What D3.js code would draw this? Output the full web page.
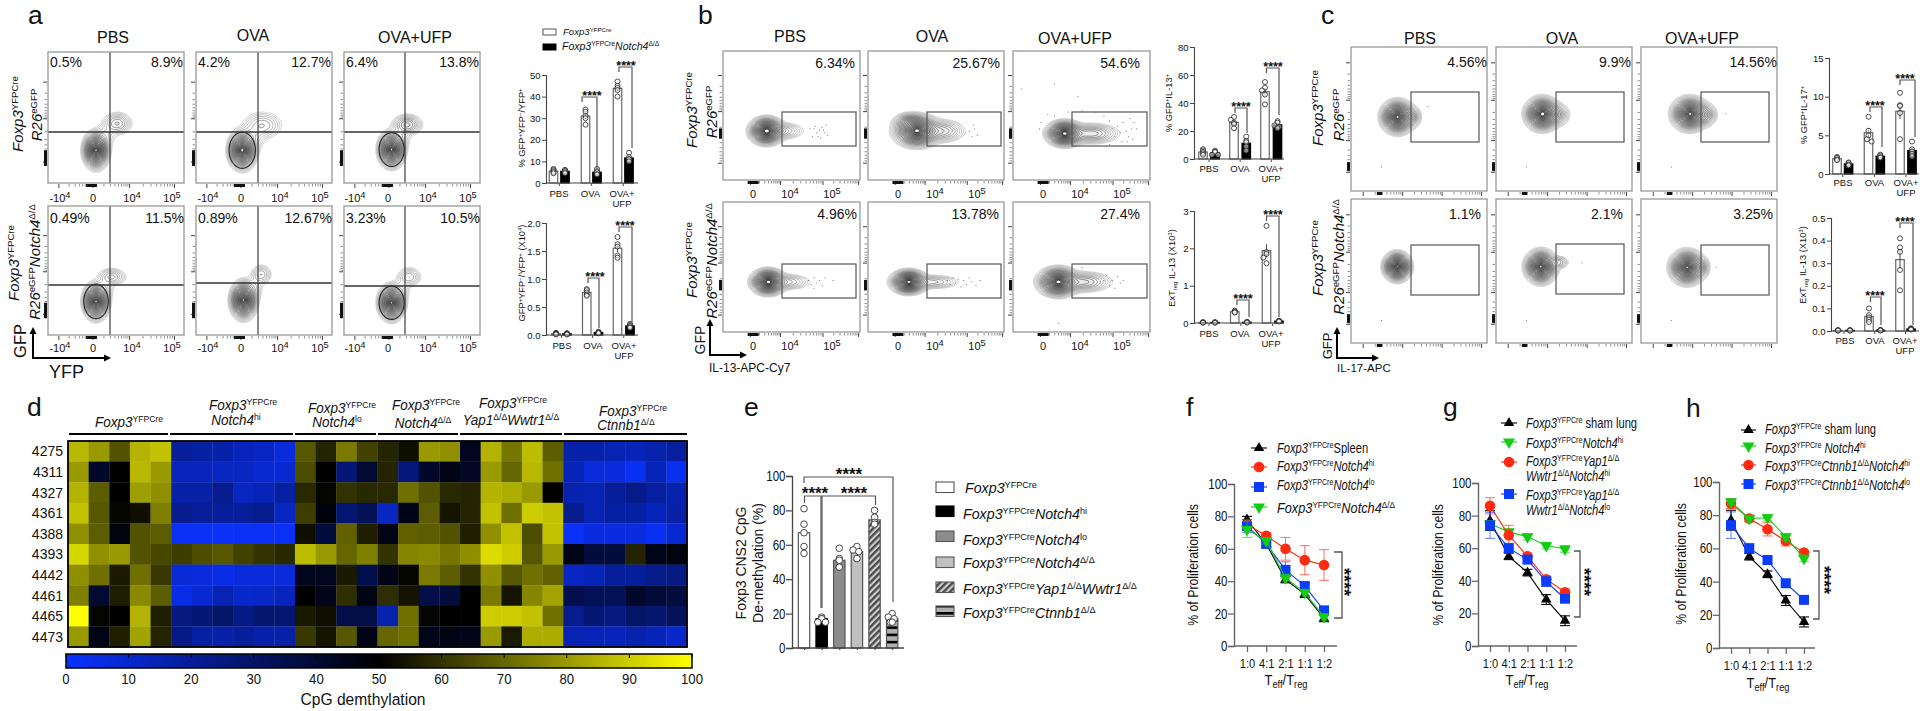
<!DOCTYPE html>
<html><head><meta charset="utf-8">
<script src="https://cdn.jsdelivr.net/npm/d3@7/dist/d3.min.js"></script>
<style>
html,body{margin:0;padding:0;background:#fff;overflow:hidden}
svg{display:block}
text{font-family:"Liberation Sans",Arial,sans-serif;fill:#111}
</style></head><body>
<svg id="fig" width="1920" height="711"></svg>
<script>
/* ---------- DATA ---------- */
const treatments = ["PBS","OVA","OVA+UFP"];
const aPctLeftTop = ["0.5%","4.2%","6.4%"];
const aPctRightTop = ["8.9%","12.7%","13.8%"];
const aPctLeftBottom = ["0.49%","0.89%","3.23%"];
const aPctRightBottom = ["11.5%","12.67%","10.5%"];
const bPctTop = ["6.34%","25.67%","54.6%"];
const bPctBottom = ["4.96%","13.78%","27.4%"];
const cPctTop = ["4.56%","9.9%","14.56%"];
const cPctBottom = ["1.1%","2.1%","3.25%"];

/* contour populations: centre u, centre v, spread u, spread v, weight */
const contourATop = [
 [[.353,.75,.039,.058,1],[.51,.545,.05,.04,.15],[.43,.63,.04,.05,.05]],
 [[.34,.75,.042,.06,1],[.49,.56,.07,.05,.11],[.41,.66,.05,.06,.06]],
 [[.35,.745,.04,.056,1],[.465,.555,.05,.036,.2],[.42,.65,.04,.05,.05]]];
const contourABottom = [
 [[.353,.74,.039,.058,1],[.47,.55,.05,.033,.12],[.42,.64,.035,.05,.05]],
 [[.35,.73,.04,.06,1],[.48,.53,.036,.036,.11],[.43,.63,.035,.05,.05]],
 [[.35,.75,.04,.056,1],[.48,.55,.042,.036,.11],[.42,.65,.035,.05,.05]]];
const contourBTop = [
 [[.318,.62,.052,.043,1],[.44,.62,.072,.03,.12]],
 [[.36,.62,.07,.05,1],[.3,.55,.05,.03,.2],[.55,.62,.075,.04,.17]],
 [[.376,.64,.055,.04,1],[.57,.64,.09,.035,.22]]];
const contourBBottom = [
 [[.33,.615,.052,.04,1],[.47,.615,.08,.028,.12]],
 [[.30,.615,.055,.037,1],[.48,.615,.09,.025,.12]],
 [[.33,.615,.062,.045,1],[.52,.615,.09,.035,.2]]];
const contourCTop = [
 [[.342,.486,.05,.047,1],[.44,.486,.035,.035,.18]],
 [[.34,.465,.052,.047,1],[.44,.47,.045,.036,.2]],
 [[.36,.465,.055,.047,1],[.47,.47,.04,.036,.2]]];
const contourCBottom = [
 [[.34,.47,.042,.041,1]],
 [[.33,.47,.048,.047,1],[.46,.44,.035,.02,.12]],
 [[.34,.475,.052,.048,1],[.44,.475,.03,.035,.14]]];

/* stray events, panel-b tails (u,v) */
const dotsBTop = [
 [[.63,.60],[.65,.66],[.67,.58],[.68,.63],[.7,.61],[.71,.67],[.72,.59],[.74,.63],[.75,.57],[.76,.65],[.66,.6],[.69,.66],[.73,.61]],
 [[.74,.62],[.76,.66],[.78,.6],[.8,.65],[.77,.57]],
 [[.25,.49],[.3,.5],[.4,.47],[.5,.46],[.6,.47],[.66,.5],[.7,.54],[.72,.6],[.74,.66],[.76,.58],[.78,.63],[.8,.55],[.82,.62],[.84,.66],[.86,.6],[.88,.55],[.83,.7],[.79,.7],[.7,.72],[.06,.29],[.3,.25],[.47,.35],[.19,.6],[.2,.55],[.9,.6],[.87,.68],[.85,.52]]];
const dotsBBottom = [
 [[.62,.6],[.64,.63],[.66,.58],[.68,.62],[.7,.6],[.72,.64],[.74,.58],[.8,.6],[.66,.66]],
 [[.58,.6],[.6,.63],[.62,.58],[.64,.62],[.66,.59],[.68,.65],[.7,.6],[.72,.63],[.74,.58],[.76,.61],[.79,.64],[.82,.6]],
 [[.66,.6],[.68,.56],[.7,.64],[.72,.6],[.74,.66],[.76,.57],[.78,.62],[.8,.6],[.33,.93],[.5,.5]]];
const dotsCTop = [[[.22,.83],[.56,.41]],[[.22,.83]],[[.22,.83],[.62,.46]]];
const dotsCBottom = [[[.22,.84]],[[.22,.84],[.63,.44]],[[.22,.84],[.55,.47]]];

/* bars a–c: replicate values per group */
const aTopCtrl = [[6.5,6,5.5,5,4.5],[34,33,31,30,27],[47,45,44,43,40]];
const aTopKo   = [[6,6,5.5,5,4.5],[6.5,5.5,5,4,4],[14,12,11,11,10]];
const aBotCtrl = [[.04,.03,.02,.02,.01],[.82,.8,.76,.72,.7],[1.75,1.62,1.58,1.42,1.38]];
const aBotKo   = [[.03,.03,.02,.02,.01],[.06,.05,.04,.03],[.2,.18,.16,.14,.13]];
const bTopCtrl = [[7,6,5,4,3],[30,28,26,25,22],[55,51,49,46,39]];
const bTopKo   = [[6,5,5,3,3],[16,13,12,9,6],[27,26,24,23,22]];
const bBotCtrl = [[.02,.02,.01,.01],[.33,.31,.29,.28],[2.6,1.9,1.85,1.75,1.6]];
const bBotKo   = [[.02,.02,.01,.01],[.03,.02,.02,.01],[.06,.05,.05,.04]];
const cTopCtrl = [[2.2,2.1,1.9,1.8],[7.4,5.6,5,4.5,4.2],[10.5,8.9,8.8,7.9,4.5]];
const cTopKo   = [[1.5,1.4,1.2,1.1],[2.5,2.4,2.2,2.1],[4.2,3.2,2.9,2.6,2.3]];
const cBotCtrl = [[.004,.003,.002,.002],[.1,.07,.06,.05,.04],[.41,.37,.35,.27,.18]];
const cBotKo   = [[.004,.003,.002,.002],[.005,.004,.003,.002],[.012,.01,.008,.006]];

/* heatmap d */
const cpgSites = ["4275","4311","4327","4361","4388","4393","4442","4461","4465","4473"];
const heatRows = [
 [86,80,66,85,88, 20,18,17,13,12,7, 67,57,74,63,57,53,80,78,44, 85,73,87,68, 17,17,15,14,16,19],
 [80,42,50,86,80, 13,13,12,12,9,9, 65,50,27,40,57,26,42,46,43, 80,70,86,72, 14,7,7,3,14,3],
 [85,68,50,81,78, 17,17,22,12,14,18, 58,51,60,58,58,72,66,58,57, 85,84,80,50, 16,15,20,23,19,16],
 [88,67,51,53,75, 22,20,20,20,22,12, 62,48,28,33,12,46,68,54,57, 88,72,90,88, 22,15,18,18,14,17],
 [78,68,47,66,68, 2,2,2,2,2,2, 53,38,69,56,46,69,68,66,56, 78,88,65,88, 2,6,6,6,3,9],
 [92,78,80,66,64, 62,65,67,63,60,58, 87,80,70,75,60,76,77,73,78, 93,90,67,80, 46,38,38,57,45,47],
 [78,72,55,72,61, 8,7,5,7,7,7, 44,44,55,35,46,51,74,68,60, 78,67,72,69, 12,14,20,20,23,24],
 [75,40,56,77,68, 5,9,15,10,11,13, 50,45,59,46,59,54,36,38,50, 74,54,76,82, 35,33,33,42,39,38],
 [100,51,50,85,56, 25,27,30,24,28,28, 55,53,36,36,16,72,51,50,50, 90,90,88,72, 22,27,25,30,28,32],
 [80,46,56,82,57, 24,18,17,20,17,17, 61,54,67,46,70,72,45,46,45, 80,55,84,84, 15,14,14,16,14,10]];
const cbarTicks = [0,10,20,30,40,50,60,70,80,90,100];

/* e */
const eGroups = [[81,72,67,59,55],[18,17,17,15,15],[58,52,51,47,47],[59,57,56,52],[80,76,73,72],[20,18,17,15,15]];
const eMeans = [67,17,51,56,74.5,17];
const eLegend = ["<i>Foxp3</i><sup>YFPCre</sup>","<i>Foxp3</i><sup>YFPCre</sup><i>Notch4</i><sup>hi</sup>","<i>Foxp3</i><sup>YFPCre</sup><i>Notch4</i><sup>lo</sup>","<i>Foxp3</i><sup>YFPCre</sup><i>Notch4</i><sup>Δ/Δ</sup>","<i>Foxp3</i><sup>YFPCre</sup><i>Yap1</i><sup>Δ/Δ</sup><i>Wwtr1</i><sup>Δ/Δ</sup>","<i>Foxp3</i><sup>YFPCre</sup><i>Ctnnb1</i><sup>Δ/Δ</sup>"];

/* f, g, h */
const ratios = ["1:0","4:1","2:1","1:1","1:2"];
const fBlack=[78,63,41,32,17], fBlackErr=[2,2,2,2,2];
const fRed=[75,68,60,53,50], fRedErr=[3,2,7,9,9.5];
const fBlue=[74,63,47,37,22], fBlueErr=[4,2,5,2,2];
const fGreen=[72,65,42,33,18], fGreenErr=[5,2,2,2,2];
const gBlack=[77,55,45,28.5,15.5], gBlackErr=[6,2,2,3,3];
const gGreen=[75,70,67,61.6,59.5], gGreenErr=[2,2,2,2,2];
const gRed=[86,68,55,41,33], gRedErr=[5,6,2,2,2];
const gBlue=[74,60,53,39.5,29], gBlueErr=[8,3,2,3,2];
const hBlack=[77,55,44.4,28.6,15.7], hBlackErr=[6,2,2,3,3];
const hGreen=[88,78,78.5,67,54], hGreenErr=[2,2,2,2,2];
const hRed=[87,78,71.5,64.5,57.5], hRedErr=[3,2,4,3,1];
const hBlue=[74,60,53,39,29], hBlueErr=[8,3,2,2,2];

/* ---------- HELPERS ---------- */
const svg = d3.select("#fig");
const C_RED="#ff2a10", C_BLUE="#0a3cff", C_GREEN="#12cc12", C_BLACK="#000";

function rich(g,s,size,opts={}){
  const t=g.append("text").attr("font-size",size);
  const sx=opts.sx||1;
  let tr=opts.transform||`translate(${opts.x||0},${opts.y||0})`;
  if(sx!==1)tr+=` scale(${sx},1)`;
  t.attr("transform",tr);
  if(opts.anchor)t.attr("text-anchor",opts.anchor);
  if(opts.weight)t.attr("font-weight",opts.weight);
  const re=/<(i|sup|sub)>(.*?)<\/\1>|([^<]+)/g; let m, cur=0;
  while((m=re.exec(s))){
    const tag=m[1], txt=m[2]!=null?m[2]:m[3];
    const fs= (tag==="sup"||tag==="sub")? size*(opts.supScale||.64):size;
    const shift= tag==="sup"? -size*.36 : tag==="sub"? size*.2 : 0;
    const sp=t.append("tspan").attr("font-size",fs).attr("dy",shift-cur).text(txt);
    if(tag==="i")sp.attr("font-style","italic");
    cur=shift;
  }
  return t;
}
const rot=(x,y)=>`translate(${x},${y}) rotate(-90)`;
function rotLabel(s,x,y,size,sx){ return rich(svg,s,size,{anchor:"middle",transform:rot(x,y),sx}); }
function letter(s,x,y){ svg.append("text").attr("x",x).attr("y",y).attr("font-size",26.5).text(s); }
function stars(s,x,yc,size){
  svg.append("text").attr("x",x).attr("y",yc+size*.58).attr("font-size",size).attr("text-anchor","middle").attr("font-weight","bold").text(s);
}
function starsV(s,x,yc,size){
  svg.append("text").attr("transform",`translate(${x},${yc}) rotate(90)`).attr("y",size*.58).attr("font-size",size).attr("font-weight","bold").attr("text-anchor","middle").text(s);
}
function bracket(x1,y1,x2,y2,y,w=1.2){
  svg.append("path").attr("d",d3.line()([[x1,y1],[x1,y],[x2,y],[x2,y2]])).attr("fill","none").attr("stroke","#555").attr("stroke-width",w);
}
/* concentric level radii */
const N_LEV=24;
const radii=d3.range(N_LEV).map(i=>2.95*Math.pow((i+.7)/N_LEV,1.12));
const levelColor=d3.scaleLinear().domain([0,1.9,2.95]).range(["#1c1c1c","#3a3a3a","#aaaaaa"]);

function flowContours(g,w,h,blobs,ring){
  const W=Math.round(w),H=Math.round(h);
  const xF=d3.scaleLinear([0,1],[0,W]), yF=d3.scaleLinear([0,1],[0,H]);
  const field=list=>{
    const grid=new Float64Array(W*H);
    list.forEach(([u,v,su,sv,wt])=>{
      const cx=xF(u),cy=yF(v),sx=xF(su),sy=yF(sv);
      for(let j=0;j<H;j++)for(let i=0;i<W;i++){
        const dx=(i+.5-cx)/sx,dy=(j+.5-cy)/sy;
        grid[j*W+i]+=wt*Math.exp(-.5*(dx*dx+dy*dy));
      }
    });
    return grid;
  };
  const grid=field(blobs);
  const path=d3.geoPath();
  const contourAt=(gr,r)=>d3.contours().size([W,H]).thresholds([Math.exp(-.5*r*r)])(gr)[0];
  radii.slice().reverse().forEach(r=>{
    g.append("path").attr("d",path(contourAt(grid,r))).attr("fill","#000").attr("fill-opacity",r<2.1?.028:0)
      .attr("stroke",levelColor(r)).attr("stroke-width",r>2.3?.5:.62);
  });
  if(ring){
    g.append("path").attr("d",path(contourAt(field([blobs[0]]),2.3))).attr("fill","none").attr("stroke","#222").attr("stroke-width",1.1);
  }
  g.append("path").attr("d",path(contourAt(grid,.13))).attr("fill","#fff").attr("stroke","none");
}
function logTicks(g,majors,len,orient,size,block){
  const minors=[];
  d3.pairs(majors).forEach(([a,b])=>{for(let d=2;d<10;d++)minors.push(a+(b-a)*Math.log10(d));});
  const line=(p,l,sw)=>{
    const e=g.append("line").attr("stroke","#444").attr("stroke-width",sw);
    if(orient==="b")e.attr("x1",p*size).attr("x2",p*size).attr("y1",0).attr("y2",l);
    else e.attr("y1",p*size).attr("y2",p*size).attr("x1",0).attr("x2",-l);
  };
  minors.forEach(p=>line(p,len-1.5,.6));
  majors.forEach(p=>line(p,len,1));
  if(block){
    const r=g.append("rect").attr("fill","#111");
    if(orient==="b")r.attr("x",block[0]*size).attr("width",(block[1]-block[0])*size).attr("y",0).attr("height",3);
    else r.attr("y",block[0]*size).attr("height",(block[1]-block[0])*size).attr("x",-3).attr("width",3);
  }
}
function flowPanel(o){
  const {x,y,w,h,blobs}=o;
  const g=svg.append("g").attr("transform",`translate(${x},${y})`);
  flowContours(g,w,h,blobs,o.ring);
  (o.dots||[]).forEach(([u,v])=>g.append("rect").attr("x",u*w).attr("y",v*h).attr("width",1).attr("height",1).attr("fill","#777"));
  if(o.gx!=null){
    g.append("line").attr("x1",o.gx-x).attr("x2",o.gx-x).attr("y1",0).attr("y2",h).attr("stroke","#2a2a2a").attr("stroke-width",1.1);
    g.append("line").attr("x1",0).attr("x2",w).attr("y1",o.gy-y).attr("y2",o.gy-y).attr("stroke","#333").attr("stroke-width",1.4);
  }
  if(o.gate){
    const [a,b,c,d]=o.gate;
    g.append("rect").attr("x",a-x).attr("y",c-y).attr("width",b-a).attr("height",d-c).attr("fill","none").attr("stroke","#555").attr("stroke-width",1.2);
  }
  g.append("rect").attr("width",w).attr("height",h).attr("fill","none").attr("stroke","#999").attr("stroke-width",1.3);
  const bot=g.append("g").attr("transform",`translate(0,${h+1})`);
  logTicks(bot,o.xMajors,4,"b",w,o.xBlock);
  logTicks(g.append("g").attr("transform","translate(-1,0)"),o.yMajors,4,"l",h,o.yBlock);
  (o.tl||[]).forEach(([s,tx])=>{ rich(svg,s,11,{x:x+tx,y:y+h+o.tlY,anchor:"middle",supScale:.85}); });
}
const tl10=e=>`10<sup>${e}</sup>`;
function pct(s,x,y,anchor){ svg.append("text").attr("x",x).attr("y",y).attr("font-size",14).attr("text-anchor",anchor).text(s); }
function title(s,x,y){ svg.append("text").attr("x",x).attr("y",y).attr("font-size",16).attr("text-anchor","middle").text(s); }

function styleAxis(g,stroke,sw,fs,sx){
  g.selectAll("path").attr("stroke",stroke).attr("stroke-width",sw);
  g.selectAll("line").attr("stroke",stroke).attr("stroke-width",sw*.9);
  const t=g.selectAll("text").attr("font-size",fs).attr("font-family",'"Liberation Sans",Arial,sans-serif').attr("fill","#111");
  if(sx)t.attr("transform",`scale(${sx},1)`);
}
/* simple deterministic swarm: shift a point sideways until it clears the placed ones */
function swarm(vals,yS,r,maxOff){
  const placed=[];
  return vals.map(v=>{
    const py=yS(v); let best=0;
    for(const off of [0,-1,1,-2,2,-3,3,-4,4,-5,5,-6,6].map(k=>k*r*.6)){
      if(Math.abs(off)>maxOff)continue;
      if(placed.every(p=>Math.hypot(p[0]-off,p[1]-py)>=r*1.6)){best=off;break;}
    }
    placed.push([best,py]);
    return best;
  });
}
function barChart(o){
  const yS=d3.scaleLinear().domain([0,o.max]).range([o.y0,o.y1]);
  const xC=d3.scaleLinear().domain([0,2]).range(o.ctrlX);
  const xK=d3.scaleLinear().domain([0,2]).range(o.koX);
  const bw=8.5;
  const draw=(data,xs,fill)=>data.forEach((vals,i)=>{
    const m=d3.mean(vals), cx=xs(i);
    svg.append("rect").attr("x",cx-bw/2).attr("width",bw).attr("y",yS(m)).attr("height",Math.max(0,o.y0-yS(m))).attr("fill",fill).attr("stroke",fill==="#000"?"#000":"#666").attr("stroke-width",1.2);
    const sd=d3.deviation(vals)/Math.sqrt(vals.length);
    svg.append("line").attr("x1",cx).attr("x2",cx).attr("y1",yS(m+sd)).attr("y2",yS(m-sd)).attr("stroke","#333").attr("stroke-width",.9);
    const offs=swarm(vals,yS,2.6,4.5);
    vals.forEach((v,k)=>{
      svg.append("circle").attr("cx",cx+offs[k]).attr("cy",yS(v)).attr("r",2.5).attr("fill","#fff").attr("fill-opacity",.55).attr("stroke","#222").attr("stroke-width",.8);
    });
  });
  draw(o.ctrl,xC,"#fff"); draw(o.ko,xK,"#000");
  const ax=svg.append("g").attr("transform",`translate(${o.axisX},0)`).call(d3.axisLeft(yS).tickValues(o.ticks).tickFormat(o.fmt).tickSize(4).tickPadding(1.5));
  styleAxis(ax,"#444",1.1,9.5);
  svg.append("line").attr("x1",o.axisX).attr("x2",o.baseEnd).attr("y1",o.y0).attr("y2",o.y0).attr("stroke","#444").attr("stroke-width",1.2);
  d3.range(3).forEach(i=>{
    const mid=(xC(i)+xK(i))/2;
    svg.append("line").attr("x1",mid).attr("x2",mid).attr("y1",o.y0).attr("y2",o.y0+3).attr("stroke","#444");
  });
  const lx=d3.scaleLinear().domain([0,2]).range(o.labelX);
  ["PBS","OVA","OVA+"].forEach((s,i)=>svg.append("text").attr("x",lx(i)).attr("y",o.labelY).attr("font-size",9.5).attr("text-anchor","middle").text(s));
  svg.append("text").attr("x",lx(2)).attr("y",o.labelY+10).attr("font-size",9.5).attr("text-anchor","middle").text("UFP");
  rich(svg,o.ylabel,9.3,{anchor:"middle",transform:rot(o.ylx,o.yly)});
  o.brackets.forEach(b=>{
    bracket(b[0],b[2]+5,b[1],b[3],b[2]);
    stars(b[5]||"****",b[4],b[2]-4,12.5);
  });
}
function lineChart(o){
  const xS=d3.scalePoint().domain(ratios).range(o.xRange);
  const yS=d3.scaleLinear().domain([0,100]).range([o.y0,o.y1]);
  const symbols={up:d3.symbolTriangle,circle:d3.symbolCircle,square:d3.symbolSquare,down:d3.symbolTriangle};
  const sizes={up:48,circle:88,square:100,down:62};
  const sym=(g,kind,color,x,y)=>g.append("path").attr("d",d3.symbol(symbols[kind],sizes[kind])()).attr("transform",`translate(${x},${y})${kind==="down"?" rotate(180)":""}`).attr("fill",color);
  o.series.forEach(s=>{
    const lg=svg.append("g");
    lg.append("path").attr("d",d3.line().x((d,i)=>xS(ratios[i])).y(d=>yS(d))(s.v)).attr("fill","none").attr("stroke",s.color).attr("stroke-width",1.1);
    s.v.forEach((v,i)=>{
      const cx=xS(ratios[i]);
      const eb=lg.append("g").attr("stroke",s.color).attr("stroke-width",1.1).attr("stroke-opacity",s.color===C_BLACK?1:.6);
      eb.append("line").attr("x1",cx).attr("x2",cx).attr("y1",yS(v+s.e[i])).attr("y2",yS(v-s.e[i]));
      eb.append("line").attr("x1",cx-5).attr("x2",cx+5).attr("y1",yS(v+s.e[i])).attr("y2",yS(v+s.e[i]));
      eb.append("line").attr("x1",cx-5).attr("x2",cx+5).attr("y1",yS(v-s.e[i])).attr("y2",yS(v-s.e[i]));
      sym(lg,s.kind,s.color,cx,yS(v));
    });
  });
  const ay=svg.append("g").attr("transform",`translate(${o.axisX},0)`).call(d3.axisLeft(yS).tickValues([0,20,40,60,80,100]).tickSize(6).tickPadding(2));
  styleAxis(ay,"#666",1.4,14,.82);
  const ax=svg.append("g").attr("transform",`translate(0,${o.y0})`).call(d3.axisBottom(xS).tickSize(6).tickPadding(3));
  styleAxis(ax,"#666",1.4,13.5,.82);
  ax.select("path").attr("d",`M${o.axisX},0H${o.baseEnd}`);
  ax.selectAll("text").attr("dy","0.95em");
  rotLabel("% of Proliferation cells",o.ylx,o.yly,14,.88);
  rich(svg,"T<sub>eff</sub>/T<sub>reg</sub>",15,{x:o.tx,y:o.ty,anchor:"middle",supScale:.72,sx:.86});
  svg.append("path").attr("d",d3.line()([[o.br[3],o.br[1]],[o.br[0],o.br[1]],[o.br[0],o.br[2]],[o.br[3],o.br[2]]])).attr("fill","none").attr("stroke","#555").attr("stroke-width",1.3);
  starsV("****",o.sx,o.sy,18);
  o.legend.forEach(l=>{
    const g=svg.append("g");
    g.append("line").attr("x1",o.lg[0]).attr("x2",o.lg[1]).attr("y1",l.y).attr("y2",l.y).attr("stroke",l.color).attr("stroke-width",1.1);
    sym(g,l.kind,l.color,(o.lg[0]+o.lg[1])/2,l.y);
    l.lines.forEach(t=>rich(svg,t[0],t[2]||13.8,{x:o.lg[2],y:t[1],sx:t[3]||.81}));
  });
}

/* ---------- PANEL LETTERS ---------- */
letter("a",28,24);letter("b",698,24);letter("c",1321,24);
letter("d",27,416);letter("e",744,416);letter("f",1186,416);letter("g",1443,416);letter("h",1686,417);

/* ---------- PANEL a ---------- */
const aCols=[[48,136],[196,136],[344,136]];
const aGX=[110,258,405], aGYT=[132,132,132], aGYB=[285,283,286];
const aRingT=[false,true,true], aRingB=[true,false,true];
aCols.forEach(([x,w],i)=>{
  const tl=[["-10<sup>4</sup>",i===2?11:12],["0",i===2?44:45],[tl10(4),84],[tl10(5),124]];
  const yBlock=[.75,.87];
  flowPanel({x,y:52,w,h:131,blobs:contourATop[i],ring:aRingT[i],gx:aGX[i],gy:aGYT[i],xMajors:[.08,.33,.6,.93],xBlock:[.28,.36],yMajors:[.23,.51,.84],yBlock,tl,tlY:19});
  flowPanel({x,y:206,w,h:129,blobs:contourABottom[i],ring:aRingB[i],gx:aGX[i],gy:aGYB[i],xMajors:[.08,.33,.6,.93],xBlock:[.28,.36],yMajors:[.23,.51,.84],yBlock,tl,tlY:17});
  pct(aPctLeftTop[i],x+2,67,"start");
  pct(aPctRightTop[i],x+w-1,67,"end");
  pct(aPctLeftBottom[i],x+2,223,"start");
  pct(aPctRightBottom[i],x+w,223,"end");
});
title(treatments[0],113,43);title(treatments[1],253,41);title(treatments[2],415,43);
rotLabel("<i>Foxp3</i><sup>YFPCre</sup>",23,114,15);
rotLabel("<i>R26</i><sup>eGFP</sup>",42,115,15);
rotLabel("<i>Foxp3</i><sup>YFPCre</sup>",19,263,15);
rotLabel("<i>R26</i><sup>eGFP</sup><i>Notch4</i><sup>Δ/Δ</sup>",40,262,15);
function arrowXY(x0,yTop,yBot,xEnd,sw){
  svg.append("path").attr("d",`M${x0},${yBot}V${yTop}`).attr("stroke","#000").attr("stroke-width",sw).attr("fill","none");
  svg.append("path").attr("d",`M${x0-sw/2},${yBot}H${xEnd}`).attr("stroke","#000").attr("stroke-width",sw).attr("fill","none");
  svg.append("path").attr("d",`M${x0-3.5},${yTop+3}L${x0},${yTop-4}L${x0+3.5},${yTop+3}Z`);
  svg.append("path").attr("d",`M${xEnd-3},${yBot-3.5}L${xEnd+4},${yBot}L${xEnd-3},${yBot+3.5}Z`);
}
arrowXY(33,331,358,107,2);
svg.append("text").attr("transform",rot(26,341)).attr("font-size",16.5).attr("text-anchor","middle").text("GFP");
svg.append("text").attr("x",66.5).attr("y",378).attr("font-size",18).attr("text-anchor","middle").text("YFP");
/* a legend */
svg.append("rect").attr("x",543).attr("y",29).attr("width",13).attr("height",6).attr("fill","#fff").attr("stroke","#555");
svg.append("rect").attr("x",543).attr("y",44).attr("width",13).attr("height",6).attr("fill","#000").attr("stroke","#000");
rich(svg,"<i>Foxp3</i><sup>YFPCre</sup>",9.6,{x:563,y:35});
rich(svg,"<i>Foxp3</i><sup>YFPCre</sup><i>Notch4</i><sup>Δ/Δ</sup>",10.5,{x:562,y:50});
barChart({ctrl:aTopCtrl,ko:aTopKo,max:50,y0:183,y1:75,axisX:546,baseEnd:638,ticks:[0,10,20,30,40,50],fmt:d3.format("d"),ctrlX:[553.5,617.5],koX:[565,629],labelX:[559,622],labelY:197,ylabel:"% GFP<sup>+</sup>YFP<sup>−</sup>/YFP<sup>+</sup>",ylx:525,yly:128,
 brackets:[[582,597,97,168,592],[619,632,67,148,626]]});
barChart({ctrl:aBotCtrl,ko:aBotKo,max:2,y0:335,y1:223,axisX:546,baseEnd:638,ticks:[0,.5,1,1.5,2],fmt:d3.format(".1f"),ctrlX:[556,617.5],koX:[567,630],labelX:[562,624],labelY:349,ylabel:"GFP<sup>+</sup>YFP<sup>−</sup>/YFP<sup>+</sup> (X10<sup>4</sup>)",ylx:525,yly:273,
 brackets:[[588,599,278,328,595],[619,632,227,322,625]]});

/* ---------- PANEL b ---------- */
const bCols=[[723,137],[868,136],[1013,137]];
const bGate=[[782,856],[927,1001],[1072,1147]];
const bPctX=[[855,857],[1000,999],[1140,1140]];
bCols.forEach(([x,w],i)=>{
  const tl=[["0",30],[tl10(4),67],[tl10(5),109]];
  flowPanel({x,y:51,w,h:129,blobs:contourBTop[i],dots:dotsBTop[i],gate:[bGate[i][0],bGate[i][1],112,146],xMajors:[.2,.42,.73,.99],xBlock:[.18,.26],yMajors:[.19,.47,.87],yBlock:[.6,.68],tl,tlY:18});
  flowPanel({x,y:202,w,h:130,blobs:contourBBottom[i],dots:dotsBBottom[i],gate:[bGate[i][0],bGate[i][1],264,298],xMajors:[.2,.42,.73,.99],xBlock:[.18,.26],yMajors:[.19,.47,.87],yBlock:[.6,.68],tl,tlY:18});
  pct(bPctTop[i],bPctX[i][0],68,"end");
  pct(bPctBottom[i],bPctX[i][1],219,"end");
});
title(treatments[0],790,42);title(treatments[1],932,42);title(treatments[2],1075,44);
rotLabel("<i>Foxp3</i><sup>YFPCre</sup>",697,110,15);
rotLabel("<i>R26</i><sup>eGFP</sup>",717,112,15);
rotLabel("<i>Foxp3</i><sup>YFPCre</sup>",697,260,15);
rotLabel("<i>R26</i><sup>eGFP</sup><i>Notch4</i><sup>Δ/Δ</sup>",717,261,15);
arrowXY(710,323,355,743,2);
svg.append("text").attr("transform",rot(705,340)).attr("font-size",14).attr("text-anchor","middle").text("GFP");
svg.append("text").attr("x",709).attr("y",372).attr("font-size",12).text("IL-13-APC-Cy7");
barChart({ctrl:bTopCtrl,ko:bTopKo,max:80,y0:159,y1:47,axisX:1194,baseEnd:1284,ticks:[0,20,40,60,80],fmt:d3.format("d"),ctrlX:[1203,1265],koX:[1215,1277.5],labelX:[1209,1271],labelY:172,ylabel:"% GFP<sup>+</sup>IL-13<sup>+</sup>",ylx:1172,yly:103,
 brackets:[[1235,1247,108,133,1241],[1266.5,1279,68,115,1273]]});
barChart({ctrl:bBotCtrl,ko:bBotKo,max:3,y0:323,y1:211,axisX:1194,baseEnd:1284,ticks:[0,1,2,3],fmt:d3.format("d"),ctrlX:[1203,1266.5],koX:[1215,1279],labelX:[1209,1271],labelY:337,ylabel:"ExT<sub>reg</sub> IL-13 (X10<sup>3</sup>)",ylx:1175,yly:268,
 brackets:[[1237,1249,300,317,1243],[1266.5,1279,216,317,1273]]});

/* ---------- PANEL c ---------- */
const cCols=[[1351,136],[1496,136],[1641,136]];
const cGate=[[1411,1479],[1556,1624],[1701,1769]];
const cPctTopX=[1487,1631,1777], cPctBotX=[1481,1623,1773];
const cGateY2=[[245,295],[244,294],[245,295]];
cCols.forEach(([x,w],i)=>{
  flowPanel({x,y:47,w,h:144,blobs:contourCTop[i],dots:dotsCTop[i],gate:[cGate[i][0],cGate[i][1],92,142],xMajors:[.09,.38,.67,.96],xBlock:[.19,.23],yMajors:[.11,.37,.65,.87],yBlock:[.8,.86]});
  flowPanel({x,y:199,w,h:144,blobs:contourCBottom[i],dots:dotsCBottom[i],gate:[cGate[i][0],cGate[i][1],cGateY2[i][0],cGateY2[i][1]],xMajors:[.09,.38,.67,.96],xBlock:[.19,.23],yMajors:[.11,.37,.65,.87],yBlock:[.8,.86]});
  pct(cPctTop[i],cPctTopX[i],67,"end");
  pct(cPctBottom[i],cPctBotX[i],219,"end");
});
title(treatments[0],1420,44);title(treatments[1],1562,44);title(treatments[2],1702,44);
rotLabel("<i>Foxp3</i><sup>YFPCre</sup>",1323,108,15);
rotLabel("<i>R26</i><sup>eGFP</sup>",1344,115,15);
rotLabel("<i>Foxp3</i><sup>YFPCre</sup>",1323,258,15);
rotLabel("<i>R26</i><sup>eGFP</sup><i>Notch4</i><sup>Δ/Δ</sup>",1344,257,15);
arrowXY(1337,331,358,1375,2);
svg.append("text").attr("transform",rot(1332,346)).attr("font-size",13).attr("text-anchor","middle").text("GFP");
svg.append("text").attr("x",1337).attr("y",372).attr("font-size",11.5).text("IL-17-APC");
barChart({ctrl:cTopCtrl,ko:cTopKo,max:15,y0:174,y1:58,axisX:1829,baseEnd:1919,ticks:[0,5,10,15],fmt:d3.format("d"),ctrlX:[1837,1900],koX:[1848.6,1912],labelX:[1843,1906],labelY:186,ylabel:"% GFP<sup>+</sup>IL-17<sup>+</sup>",ylx:1807,yly:115,
 brackets:[[1870,1882,107,147,1875],[1900,1915,80,137,1905]]});
barChart({ctrl:cBotCtrl,ko:cBotKo,max:.5,y0:331,y1:218,axisX:1831,baseEnd:1919,ticks:[0,.1,.2,.3,.4,.5],fmt:d3.format(".1f"),ctrlX:[1838,1900],koX:[1850,1911],labelX:[1845,1905],labelY:344,ylabel:"ExT<sub>reg</sub> IL-13 (X10<sup>3</sup>)",ylx:1806,yly:265,
 brackets:[[1870.5,1881,297,325,1875],[1900,1913,223,325,1905]]});

/* ---------- PANEL d ---------- */
const colorS=d3.scaleLinear().domain([0,50,100]).range(["#0a32ff","#000","#ffff00"]);
const hx=d3.scaleBand().domain(d3.range(30)).range([68,687]);
const hy=d3.scaleBand().domain(cpgSites).range([441,647]);
const hm=svg.append("g");
heatRows.forEach((row,r)=>row.forEach((v,c)=>{
  hm.append("rect").attr("x",hx(c)).attr("y",hy(cpgSites[r])).attr("width",hx.bandwidth()+.3).attr("height",hy.bandwidth()+.3).attr("fill",colorS(v));
}));
svg.append("rect").attr("x",68).attr("y",441).attr("width",619).attr("height",206).attr("fill","none").attr("stroke","#000").attr("stroke-width",1.8);
cpgSites.forEach(s=>svg.append("text").attr("x",63).attr("y",hy(s)+hy.bandwidth()/2+5).attr("font-size",14).attr("text-anchor","end").text(s));
const headerGroups=[
 {seg:[69,168],lines:[["<i>Foxp3</i><sup>YFPCre</sup>",129,427]]},
 {seg:[170,293],lines:[["<i>Foxp3</i><sup>YFPCre</sup>",243,410],["<i>Notch4</i><sup>hi</sup>",236,425]]},
 {seg:[295,376],lines:[["<i>Foxp3</i><sup>YFPCre</sup>",342,413],["<i>Notch4</i><sup>lo</sup>",337,427]]},
 {seg:[378,458],lines:[["<i>Foxp3</i><sup>YFPCre</sup>",426,410],["<i>Notch4</i><sup>Δ/Δ</sup>",423,428]]},
 {seg:[460,562],lines:[["<i>Foxp3</i><sup>YFPCre</sup>",513,408],["<i>Yap1</i><sup>Δ/Δ</sup><i>Wwtr1</i><sup>Δ/Δ</sup>",511,425]]},
 {seg:[564,687],lines:[["<i>Foxp3</i><sup>YFPCre</sup>",633,416],["<i>Ctnnb1</i><sup>Δ/Δ</sup>",626,430]]}];
headerGroups.forEach(h=>{
  svg.append("line").attr("x1",h.seg[0]).attr("x2",h.seg[1]).attr("y1",434).attr("y2",434).attr("stroke","#000").attr("stroke-width",2);
  h.lines.forEach(l=>rich(svg,l[0],15,{x:l[1],y:l[2],anchor:"middle",sx:.9}));
});
const defs=svg.append("defs");
const grad=defs.append("linearGradient").attr("id","cbar");
[0,50,100].forEach(v=>grad.append("stop").attr("offset",v+"%").attr("stop-color",colorS(v)));
const cS=d3.scaleLinear().domain([0,100]).range([66,692]);
svg.append("rect").attr("x",66).attr("y",654).attr("width",626).attr("height",14).attr("fill","url(#cbar)").attr("stroke","#000").attr("stroke-width",1.5);
cbarTicks.forEach(t=>{
  svg.append("line").attr("x1",cS(t)).attr("x2",cS(t)).attr("y1",654).attr("y2",658).attr("stroke","#000");
  rich(svg,String(t),15.5,{x:cS(t),y:684,anchor:"middle",sx:.85});
});
rich(svg,"CpG demthylation",17,{x:363,y:705,anchor:"middle",sx:.92});

/* ---------- PANEL e ---------- */
const hatch=defs.append("pattern").attr("id","hatch").attr("patternUnits","userSpaceOnUse").attr("width",4.5).attr("height",4.5).attr("patternTransform","rotate(45)");
hatch.append("rect").attr("width",4.5).attr("height",4.5).attr("fill","#cfcfcf");
hatch.append("rect").attr("width",2.4).attr("height",4.5).attr("fill","#4a4a4a");
const stripe=defs.append("pattern").attr("id","stripe").attr("patternUnits","userSpaceOnUse").attr("width",7.2).attr("height",7.2);
stripe.append("rect").attr("width",7.2).attr("height",7.2).attr("fill","#b0b0b0");
stripe.append("rect").attr("width",7.2).attr("height",2.6).attr("fill","#000");
const eFills=["#fff","#000","#8c8c8c","#c0c0c0","url(#hatch)","url(#stripe)"];
const eY=d3.scaleLinear().domain([0,100]).range([648,476]);
const eX=d3.scaleBand().domain(d3.range(6)).range([795.2,901]).paddingInner(0);
const eCx=i=>eX(i)+eX.bandwidth()/2;
eMeans.forEach((m,i)=>{
  svg.append("rect").attr("x",eCx(i)-5.7).attr("width",11.4).attr("y",eY(m)).attr("height",648-eY(m)).attr("fill",eFills[i]).attr("stroke",i===1?"#000":"#555").attr("stroke-width",1.2);
});
eGroups.forEach((vals,i)=>{
  const offs=swarm(vals,eY,3.2,5.5);
  vals.forEach((v,k)=>svg.append("circle").attr("cx",eCx(i)+offs[k]).attr("cy",eY(v)).attr("r",3.3).attr("fill","#fff").attr("stroke","#333").attr("stroke-width",.9));
});
const eAy=svg.append("g").attr("transform","translate(792,0)").call(d3.axisLeft(eY).tickValues([0,20,40,60,80,100]).tickSize(6).tickPadding(2));
styleAxis(eAy,"#444",1.3,14,.82);
const eAx=svg.append("g").attr("transform","translate(0,648)").call(d3.axisBottom(d3.scaleLinear().domain([0,5]).range([eCx(0),eCx(5)])).tickValues(d3.range(6)).tickFormat("").tickSize(2));
styleAxis(eAx,"#444",1.3,10);
eAx.select("path").attr("d","M792,0H904");
rotLabel("Foxp3 CNS2 CpG",746,563,14);
rotLabel("De-methylation (%)",763,563,14);
bracket(804,483,893,602,477,1.2);stars("****",849,470,17);
bracket(804.5,503,821,608,496,1.2);stars("****",815,489,17);
bracket(822,608,875.5,505,496,1.2);stars("****",854,489,17);
const eSwatchY=[482,506,531,557,582,606];
const eTextY=[493,519,545,568,594,618];
const eTextX=[965,963,963,963,963,963];
eLegend.forEach((s,i)=>{
  svg.append("rect").attr("x",936).attr("y",eSwatchY[i]).attr("width",18).attr("height",10.5).attr("fill",eFills[i]).attr("stroke",i===1?"#000":"#555").attr("stroke-width",1.1);
  rich(svg,s,15,{x:eTextX[i],y:eTextY[i],sx:.95});
});

/* ---------- PANELS f g h ---------- */
lineChart({axisX:1234,baseEnd:1337,xRange:[1247,1324],y0:646,y1:484,ylx:1198,yly:565,tx:1286,ty:685,
 series:[{v:fBlack,e:fBlackErr,color:C_BLACK,kind:"up"},{v:fRed,e:fRedErr,color:C_RED,kind:"circle"},{v:fBlue,e:fBlueErr,color:C_BLUE,kind:"square"},{v:fGreen,e:fGreenErr,color:C_GREEN,kind:"down"}],
 br:[1342,552,618,1334],sx:1348,sy:582,lg:[1251,1267,1277],
 legend:[
 {y:448,color:C_BLACK,kind:"up",lines:[["<i>Foxp3</i><sup>YFPCre</sup>Spleen",453]]},
 {y:467,color:C_RED,kind:"circle",lines:[["<i>Foxp3</i><sup>YFPCre</sup><i>Notch4</i><sup>hi</sup>",471]]},
 {y:487,color:C_BLUE,kind:"square",lines:[["<i>Foxp3</i><sup>YFPCre</sup><i>Notch4</i><sup>lo</sup>",490]]},
 {y:507,color:C_GREEN,kind:"down",lines:[["<i>Foxp3</i><sup>YFPCre</sup><i>Notch4</i><sup>Δ/Δ</sup>",513,15,.85]]}]});
lineChart({axisX:1478,baseEnd:1577,xRange:[1490,1565],y0:646,y1:483,ylx:1443,yly:565,tx:1527,ty:685,
 series:[{v:gBlack,e:gBlackErr,color:C_BLACK,kind:"up"},{v:gGreen,e:gGreenErr,color:C_GREEN,kind:"down"},{v:gRed,e:gRedErr,color:C_RED,kind:"circle"},{v:gBlue,e:gBlueErr,color:C_BLUE,kind:"square"}],
 br:[1580,551,617,1574],sx:1588,sy:582,lg:[1501,1517,1526],
 legend:[
 {y:423,color:C_BLACK,kind:"up",lines:[["<i>Foxp3</i><sup>YFPCre</sup> sham lung",428]]},
 {y:442,color:C_GREEN,kind:"down",lines:[["<i>Foxp3</i><sup>YFPCre</sup><i>Notch4</i><sup>hi</sup>",448]]},
 {y:462,color:C_RED,kind:"circle",lines:[["<i>Foxp3</i><sup>YFPCre</sup><i>Yap1</i><sup>Δ/Δ</sup>",466],["<i>Wwtr1</i><sup>Δ/Δ</sup><i>Notch4</i><sup>hi</sup>",481]]},
 {y:494,color:C_BLUE,kind:"square",lines:[["<i>Foxp3</i><sup>YFPCre</sup><i>Yap1</i><sup>Δ/Δ</sup>",500],["<i>Wwtr1</i><sup>Δ/Δ</sup><i>Notch4</i><sup>lo</sup>",515]]}]});
lineChart({axisX:1719,baseEnd:1815,xRange:[1731,1804],y0:648,y1:482,ylx:1686,yly:564,tx:1768,ty:688,
 series:[{v:hBlack,e:hBlackErr,color:C_BLACK,kind:"up"},{v:hRed,e:hRedErr,color:C_RED,kind:"circle"},{v:hGreen,e:hGreenErr,color:C_GREEN,kind:"down"},{v:hBlue,e:hBlueErr,color:C_BLUE,kind:"square"}],
 br:[1819,551,619,1813],sx:1828,sy:580,lg:[1741,1756,1765],
 legend:[
 {y:430,color:C_BLACK,kind:"up",lines:[["<i>Foxp3</i><sup>YFPCre</sup> sham lung",434]]},
 {y:446,color:C_GREEN,kind:"down",lines:[["<i>Foxp3</i><sup>YFPCre</sup> <i>Notch4</i><sup>hi</sup>",453]]},
 {y:465,color:C_RED,kind:"circle",lines:[["<i>Foxp3</i><sup>YFPCre</sup><i>Ctnnb1</i><sup>Δ/Δ</sup><i>Notch4</i><sup>hi</sup>",471]]},
 {y:484,color:C_BLUE,kind:"square",lines:[["<i>Foxp3</i><sup>YFPCre</sup><i>Ctnnb1</i><sup>Δ/Δ</sup><i>Notch4</i><sup>lo</sup>",490]]}]});
</script>
</body></html>
